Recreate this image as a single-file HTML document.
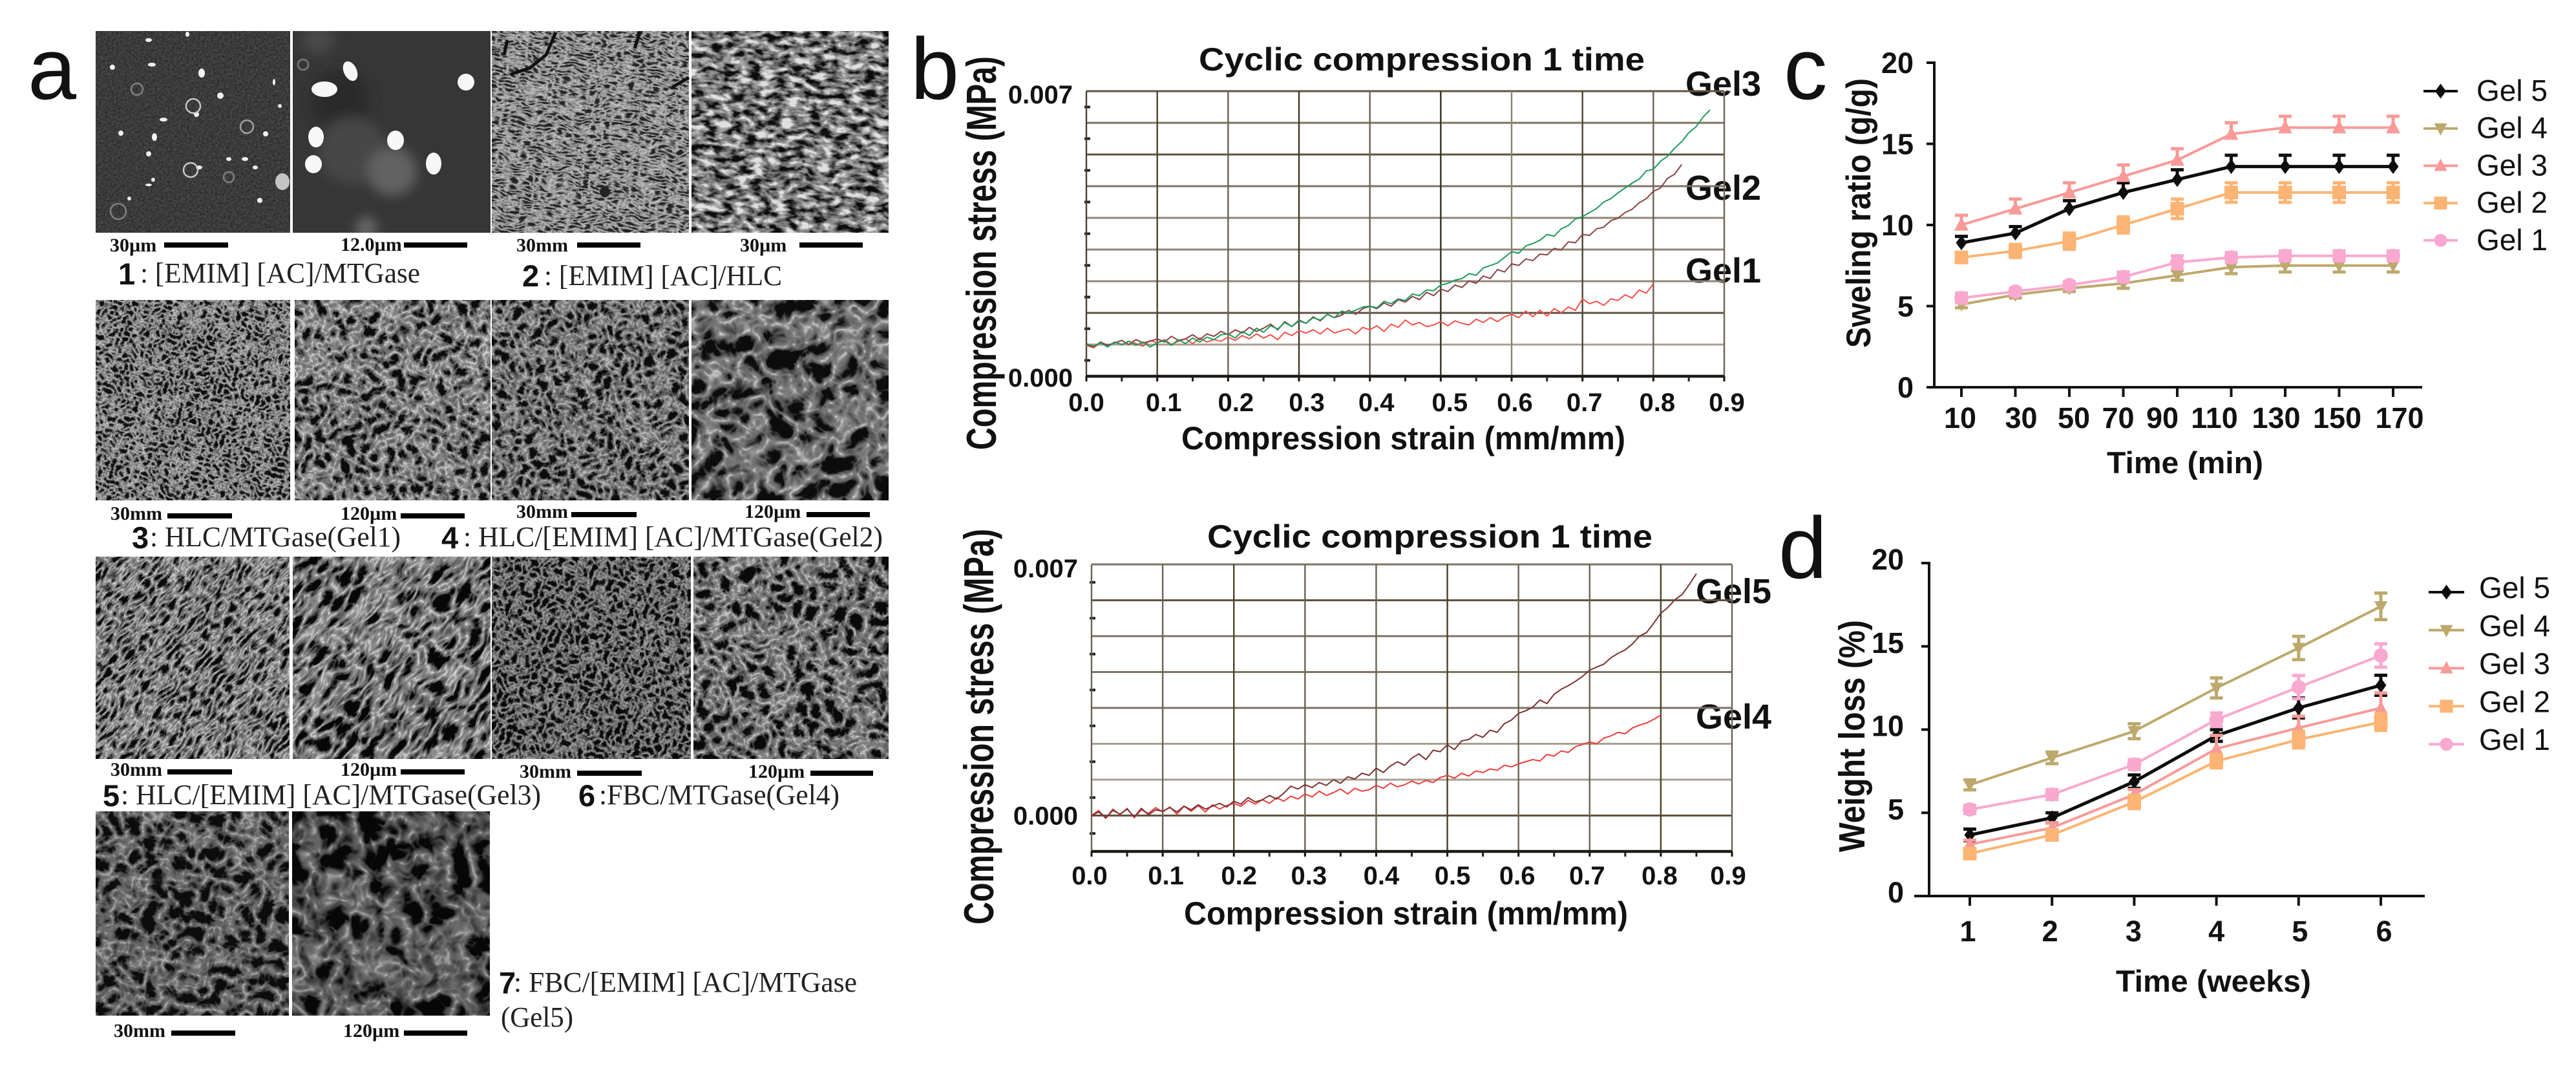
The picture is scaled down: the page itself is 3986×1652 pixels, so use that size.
<!DOCTYPE html>
<html lang="en">
<head>
<meta charset="utf-8">
<title>Hydrogel characterisation figure</title>
<style>
html,body{margin:0;padding:0;background:#fff;width:3986px;height:1652px;overflow:hidden}
svg{display:block}
text{font-family:"Liberation Sans",sans-serif;fill:#111}
.cap{font-family:"Liberation Serif",serif;font-size:44px;fill:#222}
.num{font-weight:700;font-size:47px}
.sb{font-family:"Liberation Serif",serif;font-weight:700;font-size:30px}
.pl{font-size:135px}
.gel{font-weight:700;font-size:54px}
.ttl{font-weight:700;font-size:50px}
</style>
</head>
<body>
<svg id="fig" xmlns="http://www.w3.org/2000/svg" width="3986" height="1652" viewBox="0 0 3986 1652">
<defs id="defs">
<filter id="f0" x="0" y="0" width="100%" height="100%" color-interpolation-filters="sRGB"><feTurbulence type="fractalNoise" baseFrequency=".3" numOctaves="2" seed="2"/><feColorMatrix values=".22 0 0 0 .12 .22 0 0 0 .12 .22 0 0 0 .12 0 0 0 0 1"/></filter>
<filter id="soft"><feGaussianBlur stdDeviation="9"/></filter>
</defs>

<g>
<text class="pl" x="43" y="153">a</text>

<g>
<rect x="148" y="48" width="301" height="312" filter="url(#f0)"/>
<g fill="#f2f2f2">
<ellipse cx="312" cy="113" rx="5" ry="7"/><ellipse cx="341" cy="148" rx="5" ry="5"/><ellipse cx="239" cy="212" rx="4" ry="6"/><ellipse cx="253" cy="185" rx="6" ry="3"/><ellipse cx="187" cy="206" rx="4" ry="4"/><ellipse cx="290" cy="53" rx="3" ry="4"/><ellipse cx="230" cy="62" rx="5" ry="3"/><ellipse cx="235" cy="100" rx="6" ry="3"/><ellipse cx="174" cy="104" rx="4" ry="4"/><ellipse cx="411" cy="207" rx="4" ry="4"/><ellipse cx="230" cy="238" rx="4" ry="4"/><ellipse cx="354" cy="246" rx="4" ry="3"/><ellipse cx="379" cy="246" rx="5" ry="3"/><ellipse cx="395" cy="259" rx="4" ry="3"/><ellipse cx="237" cy="278" rx="3" ry="3"/><ellipse cx="230" cy="286" rx="5" ry="2"/><ellipse cx="402" cy="310" rx="4" ry="4"/><ellipse cx="200" cy="307" rx="3" ry="3"/><ellipse cx="437" cy="281" rx="11" ry="13" fill="#c4c4c4"/><ellipse cx="304" cy="177" rx="4" ry="4"/><ellipse cx="424" cy="127" rx="2" ry="5"/><ellipse cx="433" cy="164" rx="3" ry="3"/><ellipse cx="308" cy="259" rx="5" ry="3"/>
</g>
<g fill="none" stroke="#808080" stroke-width="2.5">
<circle cx="212" cy="138" r="9"/><circle cx="299" cy="164" r="11" stroke="#c8c8c8"/><circle cx="382" cy="196" r="10" stroke="#a0a0a0"/><circle cx="295" cy="263" r="11" stroke="#c8c8c8"/><circle cx="354" cy="274" r="8"/><circle cx="183" cy="327" r="12"/>
</g>
</g>

<g>
<rect x="453" y="48" width="306" height="312" fill="#363636"/>
<svg x="453" y="48" width="306" height="312">
<g filter="url(#soft)">
<circle cx="74" cy="106" r="46" fill="#2b2b2b"/><circle cx="92" cy="185" r="52" fill="#474747"/><circle cx="154" cy="217" r="38" fill="#626262"/><circle cx="114" cy="304" r="16" fill="#6c6c6c"/><circle cx="39" cy="12" r="24" fill="#484848"/>
</g>
</svg>
<g fill="#f7f7f7">
<ellipse cx="542" cy="110" rx="10" ry="16" transform="rotate(-25 542 110)"/><ellipse cx="502" cy="138" rx="20" ry="12"/><ellipse cx="721" cy="127" rx="13" ry="13"/><ellipse cx="489" cy="212" rx="12" ry="16"/><ellipse cx="612" cy="217" rx="13" ry="15"/><ellipse cx="485" cy="254" rx="13" ry="14"/><ellipse cx="671" cy="253" rx="12" ry="17"/>
</g>
<circle cx="469" cy="100" r="8" fill="none" stroke="#707070" stroke-width="3"/>
</g>

<g>
<svg x="761" y="48" width="305" height="312"><rect x="-100" y="-100" width="505" height="512" transform="rotate(8 152 156)" filter="url(#t1)"/></svg>
<path d="M785 62 L780 85 M860 50 L845 85 L820 105 L790 115 M990 50 L982 75 M1066 120 L1040 135" stroke="#111" stroke-width="5" fill="none"/>
<circle cx="936" cy="297" r="8" fill="#222"/>
</g>
<g>
<svg x="1070" y="48" width="305" height="312"><rect x="-100" y="-100" width="505" height="512" transform="rotate(6 152 156)" filter="url(#t2)"/></svg>
</g>

<text class="sb" x="170" y="389">30µm</text>
<rect x="254" y="375" width="99" height="8" fill="#000"/>
<text class="sb" x="527" y="388">12.0µm</text>
<rect x="625" y="375" width="98" height="8" fill="#000"/>
<text class="sb" x="799" y="389">30mm</text>
<rect x="893" y="375" width="98" height="8" fill="#000"/>
<text class="sb" x="1145" y="389">30µm</text>
<rect x="1237" y="375" width="98" height="8" fill="#000"/>

<text class="num" x="183" y="440">1</text>
<text class="cap" x="217" y="437" textLength="433" lengthAdjust="spacingAndGlyphs">: [EMIM] [AC]/MTGase</text>
<text class="num" x="808" y="443">2</text>
<text class="cap" x="842" y="441" textLength="368" lengthAdjust="spacingAndGlyphs">: [EMIM] [AC]/HLC</text>

<g><svg x="148" y="464" width="301" height="310"><rect x="-100" y="-100" width="501" height="510" transform="rotate(17 150 155)" filter="url(#t3)"/></svg></g>
<g><svg x="456" y="464" width="303" height="310"><rect x="-100" y="-100" width="503" height="510" transform="rotate(-21 151 155)" filter="url(#t4)"/></svg></g>
<g><svg x="761" y="464" width="305" height="310"><rect x="-100" y="-100" width="505" height="510" transform="rotate(25 152 155)" filter="url(#t5)"/></svg></g>
<g><svg x="1070" y="464" width="305" height="310"><rect x="-100" y="-100" width="505" height="510" transform="rotate(-13 152 155)" filter="url(#t6)"/></svg></g>

<text class="sb" x="171" y="804">30mm</text>
<rect x="259" y="794" width="100" height="8" fill="#000"/>
<text class="sb" x="527" y="804">120µm</text>
<rect x="620" y="794" width="99" height="8" fill="#000"/>
<text class="sb" x="799" y="801">30mm</text>
<rect x="884" y="792" width="101" height="8" fill="#000"/>
<text class="sb" x="1152" y="801">120µm</text>
<rect x="1248" y="792" width="98" height="8" fill="#000"/>

<text class="num" x="204" y="848">3</text>
<text class="cap" x="232" y="845" textLength="388" lengthAdjust="spacingAndGlyphs">: HLC/MTGase(Gel1)</text>
<text class="num" x="683" y="848">4</text>
<text class="cap" x="717" y="845" textLength="649" lengthAdjust="spacingAndGlyphs">: HLC/[EMIM] [AC]/MTGase(Gel2)</text>

<g><svg x="148" y="861" width="300" height="313"><rect x="-130" y="-130" width="560" height="573" transform="rotate(-50 150 156)" filter="url(#t7)"/></svg></g>
<g><svg x="453" y="861" width="306" height="313"><rect x="-130" y="-130" width="566" height="573" transform="rotate(-50 153 156)" filter="url(#t8)"/></svg></g>
<g><svg x="761" y="861" width="308" height="313"><rect x="-100" y="-100" width="508" height="513" transform="rotate(23 154 156)" filter="url(#t9)"/></svg></g>
<g><svg x="1073" y="861" width="302" height="313"><rect x="-100" y="-100" width="502" height="513" transform="rotate(-27 151 156)" filter="url(#t10)"/></svg></g>

<text class="sb" x="171" y="1200">30mm</text>
<rect x="259" y="1190" width="100" height="8" fill="#000"/>
<text class="sb" x="527" y="1200">120µm</text>
<rect x="620" y="1190" width="99" height="8" fill="#000"/>
<text class="sb" x="804" y="1203">30mm</text>
<rect x="893" y="1192" width="100" height="8" fill="#000"/>
<text class="sb" x="1158" y="1203">120µm</text>
<rect x="1254" y="1192" width="97" height="8" fill="#000"/>

<text class="num" x="159" y="1247">5</text>
<text class="cap" x="187" y="1244" textLength="650" lengthAdjust="spacingAndGlyphs">: HLC/[EMIM] [AC]/MTGase(Gel3)</text>
<text class="num" x="895" y="1247">6</text>
<text class="cap" x="927" y="1244" textLength="372" lengthAdjust="spacingAndGlyphs">:FBC/MTGase(Gel4)</text>

<g><svg x="148" y="1255" width="299" height="316"><rect x="-40" y="-40" width="379" height="396" transform="rotate(11 149 158)" filter="url(#t11)"/></svg></g>
<g><svg x="452" y="1255" width="306" height="316"><rect x="-40" y="-40" width="386" height="396" transform="rotate(-11 153 158)" filter="url(#t12)"/></svg></g>

<text class="sb" x="176" y="1604">30mm</text>
<rect x="265" y="1594" width="99" height="8" fill="#000"/>
<text class="sb" x="531" y="1604">120µm</text>
<rect x="625" y="1594" width="98" height="8" fill="#000"/>

<text class="num" x="772" y="1537">7</text>
<text class="cap" x="795" y="1534" textLength="531" lengthAdjust="spacingAndGlyphs">: FBC/[EMIM] [AC]/MTGase</text>
<text class="cap" x="775" y="1588" textLength="112" lengthAdjust="spacingAndGlyphs">(Gel5)</text>
</g>

<g>
<text class="pl" x="1409" y="153">b</text>
<g id="chartB1">
<text class="ttl" x="1855" y="109" textLength="690" lengthAdjust="spacingAndGlyphs">Cyclic compression 1 time</text>
<text class="ttl" x="1828" y="695" textLength="687" lengthAdjust="spacingAndGlyphs">Compression strain (mm/mm)</text>
<text class="ttl" transform="translate(1541 696) rotate(-90) scale(1 1.3)" textLength="609" lengthAdjust="spacingAndGlyphs">Compression stress (MPa)</text>
<text class="gel" x="2608" y="148">Gel3</text>
<text class="gel" x="2608" y="309">Gel2</text>
<text class="gel" x="2608" y="437">Gel1</text>
</g>
<g id="chartB2">
<text class="ttl" x="1868" y="847" textLength="689" lengthAdjust="spacingAndGlyphs">Cyclic compression 1 time</text>
<text class="ttl" x="1832" y="1430" textLength="687" lengthAdjust="spacingAndGlyphs">Compression strain (mm/mm)</text>
<text class="ttl" transform="translate(1537 1430) rotate(-90) scale(1 1.3)" textLength="612" lengthAdjust="spacingAndGlyphs">Compression stress (MPa)</text>
<text class="gel" x="2624" y="933">Gel5</text>
<text class="gel" x="2624" y="1127">Gel4</text>
</g>
</g>

<g>
<text class="pl" x="2760" y="153">c</text>
<g id="chartC">
<text class="num" x="3260" y="732" textLength="242" lengthAdjust="spacingAndGlyphs">Time (min)</text>
<text class="num" transform="translate(2894 538) rotate(-90) scale(1 1.12)" textLength="417" lengthAdjust="spacingAndGlyphs">Sweling ratio (g/g)</text>
</g>
</g>

<g>
<text class="pl" x="2752" y="894">d</text>
<g id="chartD">
<text class="num" x="3274" y="1534" textLength="302" lengthAdjust="spacingAndGlyphs">Time (weeks)</text>
<text class="num" transform="translate(2885 1318) rotate(-90) scale(1 1.2)" textLength="359" lengthAdjust="spacingAndGlyphs">Weight loss (%)</text>
</g>
</g>
</svg>

<script>
// ---- Panel b data: stress in kPa (0.007 MPa = 7 kPa), sampled every 0.01 strain ----
const strainTicks = [0, 0.1, 0.2, 0.3, 0.4, 0.5, 0.6, 0.7, 0.8, 0.9];
const strainTickLabels = ['0.0', '0.1', '0.2', '0.3', '0.4', '0.5', '0.6', '0.7', '0.8', '0.9'];
const strainSamples = [0, .01, .02, .03, .04, .05, .06, .07, .08, .09, .1, .11, .12, .13, .14, .15, .16, .17, .18, .19, .2, .21, .22, .23, .24, .25, .26, .27, .28, .29, .3, .31, .32, .33, .34, .35, .36, .37, .38, .39, .4, .41, .42, .43, .44, .45, .46, .47, .48, .49, .5, .51, .52, .53, .54, .55, .56, .57, .58, .59, .6, .61, .62, .63, .64, .65, .66, .67, .68, .69, .7, .71, .72, .73, .74, .75, .76, .77, .78, .79, .8, .81, .82, .83, .84, .85, .86, .87, .88];
const stressTickValues = [0, 7];
const stressTickLabels = ['0.000', '0.007'];
const topGel1 = [.76, .70, .82, .74, .84, .78, .86, .80, .74, .88,
  .82, .90, .78, .86, .92, .80, .94, .84, .90, .86,
  .96, .88, 1.00, .92, 1.04, .94, 1.02, .90, 1.08, 1.00,
  1.12, 1.06, 1.14, 1.04, 1.18, 1.06, 1.12, 1.16, 1.04, 1.20,
  1.14, 1.24, 1.10, 1.28, 1.20, 1.38, 1.26, 1.32, 1.22, 1.26,
  1.34, 1.24, 1.36, 1.30, 1.26, 1.40, 1.32, 1.44, 1.34, 1.46,
  1.52, 1.44, 1.60, 1.46, 1.62, 1.48, 1.66, 1.56, 1.70, 1.62,
  1.90, 1.78, 1.84, 1.74, 1.90, 1.86, 2.00, 1.92, 2.12, 2.04,
  2.27];
const topGel2 = [.78, .72, .84, .76, .82, .88, .78, .90, .82, .86,
  .92, .84, .98, .88, .92, 1.02, .90, 1.04, .98, 1.10,
  1.02, 1.14, 1.06, 1.20, 1.10, 1.18, 1.28, 1.14, 1.34, 1.22,
  1.38, 1.30, 1.46, 1.36, 1.52, 1.44, 1.50, 1.62, 1.52, 1.66,
  1.72, 1.66, 1.80, 1.72, 1.88, 1.82, 1.96, 1.88, 2.06, 1.98,
  2.14, 2.08, 2.24, 2.18, 2.34, 2.28, 2.46, 2.40, 2.62, 2.56,
  2.76, 2.72, 2.88, 2.84, 3.00, 2.98, 3.14, 3.10, 3.30, 3.28,
  3.48, 3.46, 3.62, 3.66, 3.82, 3.88, 4.02, 4.10, 4.26, 4.36,
  4.54, 4.62, 4.86, 4.96, 5.20];
const topGel3 = [.80, .74, .82, .72, .84, .78, .86, .76, .84, .72,
  .82, .88, .76, .90, .80, .94, .84, .96, .90, 1.02,
  1.04, .94, 1.10, 1.00, 1.18, 1.08, 1.24, 1.16, 1.32, 1.22,
  1.36, 1.30, 1.44, 1.38, 1.52, 1.44, 1.60, 1.56, 1.62, 1.70,
  1.72, 1.68, 1.84, 1.78, 1.90, 1.86, 2.02, 1.98, 2.12, 2.10,
  2.24, 2.28, 2.36, 2.40, 2.52, 2.48, 2.66, 2.72, 2.78, 2.92,
  3.06, 3.02, 3.20, 3.26, 3.34, 3.48, 3.44, 3.62, 3.70, 3.86,
  3.92, 4.02, 4.12, 4.28, 4.36, 4.50, 4.62, 4.74, 4.84, 5.04,
  5.08, 5.28, 5.40, 5.60, 5.76, 5.98, 6.12, 6.36, 6.54];
const bottomGel5 = [0, .10, -.06, .14, .04, .18, -.04, .20, .02, .16,
  .12, .22, .10, .26, .16, .30, .18, .26, .34, .24,
  .40, .32, .50, .38, .44, .56, .46, .62, .82, .74,
  .86, .78, .92, .84, 1.00, .90, 1.08, 1.02, 1.18, 1.12,
  1.32, 1.20, 1.38, 1.50, 1.40, 1.60, 1.72, 1.56, 1.82, 1.78,
  1.97, 1.84, 2.08, 2.12, 2.26, 2.18, 2.38, 2.32, 2.56, 2.66,
  2.85, 2.92, 3.02, 3.22, 3.12, 3.38, 3.52, 3.62, 3.74, 3.88,
  4.05, 4.14, 4.22, 4.40, 4.52, 4.62, 4.78, 5.00, 5.10, 5.36,
  5.64, 5.80, 6.02, 6.16, 6.44, 6.74];
const bottomGel4 = [0, .14, -.08, .18, .02, .20, -.06, .16, .06, .22,
  .10, .24, .04, .26, .12, .28, .10, .30, .18, .28,
  .34, .26, .42, .32, .44, .34, .50, .40, .54, .46,
  .60, .52, .68, .56, .64, .74, .60, .76, .68, .72,
  .84, .76, .90, .80, .86, .96, .88, .98, .92, 1.06,
  1.12, 1.04, 1.18, 1.10, 1.24, 1.20, 1.30, 1.26, 1.40, 1.36,
  1.44, 1.50, 1.56, 1.52, 1.70, 1.66, 1.80, 1.76, 1.92, 1.98,
  2.05, 2.00, 2.16, 2.22, 2.32, 2.28, 2.44, 2.52, 2.58, 2.68,
  2.80];

// ---- Panel c data ----
const swellTimes = [10, 30, 50, 70, 90, 110, 130, 150, 170];
const swellYTicks = [0, 5, 10, 15, 20];
const swellGel5 = [8.9, 9.5, 11, 12, 12.8, 13.6, 13.6, 13.6, 13.6];
const swellGel5Err = [.4, .4, .5, .6, .6, .7, .7, .7, .7];
const swellGel4 = [5.1, 5.7, 6.1, 6.4, 6.9, 7.4, 7.5, 7.5, 7.5];
const swellGel4Err = [.2, .2, .2, .3, .3, .4, .4, .4, .4];
const swellGel3 = [10, 11, 12, 13, 14, 15.6, 16, 16, 16];
const swellGel3Err = [.6, .6, .6, .7, .7, .7, .7, .7, .7];
const swellGel2 = [8, 8.4, 9, 10, 11, 12, 12, 12, 12];
const swellGel2Err = [.3, .4, .5, .5, .6, .6, .6, .6, .6];
const swellGel1 = [5.5, 5.9, 6.3, 6.8, 7.7, 8, 8.1, 8.1, 8.1];
const swellGel1Err = [.3, .2, .2, .3, .4, .3, .3, .3, .3];

// ---- Panel d data ----
const lossWeeks = [1, 2, 3, 4, 5, 6];
const lossYTicks = [0, 5, 10, 15, 20];
const lossGel5 = [3.67, 4.7, 6.87, 9.64, 11.3, 12.66];
const lossGel5Err = [.35, .3, .4, .35, .6, .6];
const lossGel4 = [6.68, 8.3, 9.9, 12.5, 14.9, 17.4];
const lossGel4Err = [.3, .35, .45, .6, .7, .8];
const lossGel3 = [3.1, 4.1, 6.1, 8.85, 10.1, 11.3];
const lossGel3Err = [.25, .3, .3, .8, .7, .9];
const lossGel2 = [2.55, 3.67, 5.65, 8.1, 9.4, 10.45];
const lossGel2Err = [.3, .3, .4, .4, .5, .5];
const lossGel1 = [5.2, 6.1, 7.9, 10.6, 12.55, 14.45];
const lossGel1Err = [.25, .3, .3, .4, .7, .7];
const gelNames = ['Gel 5', 'Gel 4', 'Gel 3', 'Gel 2', 'Gel 1'];

const NS = 'http://www.w3.org/2000/svg';
function mk(tag, attrs, parent) {
  const el = document.createElementNS(NS, tag);
  for (const k in attrs) el.setAttribute(k, attrs[k]);
  parent.appendChild(el);
  return el;
}
function linear(d0, d1, r0, r1) {
  return function (v) { return r0 + (v - d0) / (d1 - d0) * (r1 - r0); };
}

// ---- Procedural micrograph textures (SVG noise filters) ----
const microTextures = [
  ['t1', 'turbulence', '.08 .2', 3, 5, -1.8, .9, 16, '.14 .4 .55 .65 .8 .98'],
  ['t2', 'fractalNoise', '.05 .1', 3, 8, 2.5, -.75, 12, '.05 .22 .42 .55 .68 .88'],
  ['t3', 'turbulence', '.12', 3, 11, -1.9, .95, 6, '.06 .32 .48 .56 .74 .98'],
  ['t4', 'turbulence', '.055', 3, 14, -1.9, .95, 10, '.05 .32 .46 .54 .74 .98'],
  ['t5', 'turbulence', '.07', 3, 21, -1.9, .92, 10, '.05 .3 .44 .52 .72 .95'],
  ['t6', 'turbulence', '.028', 3, 27, -1.9, .9, 20, '.05 .28 .42 .5 .72 .98'],
  ['t7', 'turbulence', '.05 .12', 3, 31, -1.9, .95, 10, '.04 .3 .46 .56 .76 1'],
  ['t8', 'turbulence', '.028 .065', 3, 36, -1.9, .92, 16, '.03 .3 .46 .56 .78 1'],
  ['t9', 'turbulence', '.1', 3, 41, -1.9, .9, 8, '.04 .28 .42 .5 .7 .95'],
  ['t10', 'turbulence', '.05', 3, 47, -1.9, .92, 12, '.04 .3 .44 .52 .74 1'],
  ['t11', 'turbulence', '.04', 3, 52, -1.9, .88, 14, '.05 .26 .38 .46 .66 .92'],
  ['t12', 'turbulence', '.024', 3, 58, -1.9, .85, 20, '.03 .22 .34 .44 .66 .92']
];
microTextures.forEach(function (t) {
  const defs = document.getElementById('defs');
  const f = mk('filter', { id: t[0], x: 0, y: 0, width: '100%', height: '100%', 'color-interpolation-filters': 'sRGB' }, defs);
  mk('feTurbulence', { type: t[1], baseFrequency: t[2], numOctaves: t[3], seed: t[4], result: 'n' }, f);
  mk('feTurbulence', { type: 'fractalNoise', baseFrequency: '.025', numOctaves: 2, seed: t[4] + 1, result: 'w' }, f);
  mk('feDisplacementMap', { in: 'n', in2: 'w', scale: t[7], xChannelSelector: 'R', yChannelSelector: 'G', result: 'd' }, f);
  const row = t[5] + ' 0 0 0 ' + t[6] + ' ';
  mk('feColorMatrix', { in: 'd', values: row + row + row + '0 0 0 0 1' }, f);
  const ct = mk('feComponentTransfer', {}, f);
  mk('feFuncR', { type: 'table', tableValues: t[8] }, ct);
  mk('feFuncG', { type: 'table', tableValues: t[8] }, ct);
  mk('feFuncB', { type: 'table', tableValues: t[8] }, ct);
});

function drawStress(root, cfg, seriesList) {
  const x = linear(0, 0.9, cfg.left, cfg.right);
  const y = linear(cfg.yMin, cfg.yMax, cfg.bottom, cfg.top);
  for (let v = cfg.yMin, i = 0; v <= cfg.yMax + 1e-6; v += cfg.gridStep, i++) {
    const gl = mk('line', { x1: cfg.left, x2: cfg.right, y1: y(v), y2: y(v), stroke: cfg.yGridColors[i], 'stroke-width': 3 }, root);
    
    
    const hv = v + cfg.gridStep / 2;
    if (hv < cfg.yMax) {
      const mt = mk('line', { x1: cfg.left - 3, x2: cfg.left + 6, y1: y(hv), y2: y(hv), stroke: '#222', 'stroke-width': 4 }, root);
      
      
    }
  }
  strainTicks.forEach(function (t, i) {
    const gl = mk('line', { x1: x(t), x2: x(t), y1: cfg.top, y2: cfg.bottom, stroke: cfg.xGridColors[i], 'stroke-width': 2.4 }, root);
    
    
    const lb = mk('text', { x: x(t) + cfg.xLabelDx[i], y: cfg.xLabelY, 'text-anchor': 'middle', 'font-size': 40, 'font-weight': 700 }, root);
    
    
    lb.textContent = strainTickLabels[i];
    const mj = mk('line', { x1: x(t), x2: x(t), y1: cfg.bottom, y2: cfg.bottom + 8, stroke: '#111', 'stroke-width': 3 }, root);
    
    
    if (i < strainTicks.length - 1) {
      const mx = (t + strainTicks[i + 1]) / 2;
      const mn = mk('line', { x1: x(mx), x2: x(mx), y1: cfg.bottom, y2: cfg.bottom + 8, stroke: '#222', 'stroke-width': 3 }, root);
      
      
    }
  });
  const axis = mk('line', { x1: cfg.left, x2: cfg.right, y1: cfg.bottom, y2: cfg.bottom, stroke: '#1c1a16', 'stroke-width': 4.5 }, root);
  
  
  stressTickValues.forEach(function (v, i) {
    const lb = mk('text', { x: cfg.left - 21, y: y(v) + cfg.yLabelDy[i], 'text-anchor': 'end', 'font-size': 40, 'font-weight': 700 }, root);
    
    
    lb.textContent = stressTickLabels[i];
  });
  seriesList.forEach(function (s) {
    const pts = s.values.map(function (v, i) { return x(strainSamples[i]) + ',' + y(v); }).join(' ');
    const pl = mk('polyline', { points: pts, fill: 'none', stroke: s.color, 'stroke-width': 2, 'stroke-linejoin': 'round' }, root);
    
    
  });
}

function marker(parent, shape, cx, cy, r, color) {
  if (shape === 'circle') return mk('circle', { cx: cx, cy: cy, r: r, fill: color }, parent);
  if (shape === 'square') return mk('rect', { x: cx - r, y: cy - r, width: 2 * r, height: 2 * r, fill: color }, parent);
  let pts;
  if (shape === 'diamond') pts = [[cx, cy - r * 1.15], [cx + r * .85, cy], [cx, cy + r * 1.15], [cx - r * .85, cy]];
  if (shape === 'down') pts = [[cx - r, cy - r * .8], [cx + r, cy - r * .8], [cx, cy + r * 1.1]];
  if (shape === 'up') pts = [[cx - r, cy + r * .8], [cx + r, cy + r * .8], [cx, cy - r * 1.1]];
  return mk('polygon', { points: pts.map(function (p) { return p.join(','); }).join(' '), fill: color }, parent);
}

function drawCategory(root, cfg, xs, yTicks, seriesList) {
  const x = linear(xs[0], xs[xs.length - 1], cfg.x0, cfg.x1);
  const y = linear(yTicks[0], yTicks[yTicks.length - 1], cfg.bottom, cfg.top);
  const ya = mk('line', { x1: cfg.axisX, x2: cfg.axisX, y1: cfg.top - 2, y2: cfg.bottom + 2, stroke: '#111', 'stroke-width': 4 }, root);
  
  
  const xa = mk('line', { x1: cfg.axisX - cfg.axisLeftExt, x2: cfg.axisEnd, y1: cfg.bottom, y2: cfg.bottom, stroke: '#111', 'stroke-width': 4 }, root);
  
  
  yTicks.forEach(function (v) {
    const t = mk('line', { x1: cfg.axisX - 12, x2: cfg.axisX, y1: y(v), y2: y(v), stroke: '#111', 'stroke-width': 4 }, root);
    
    
    const lb = mk('text', { x: cfg.yLabelX, y: y(v) + cfg.yLabelDy, 'text-anchor': 'end', 'font-size': 45, 'font-weight': 700 }, root);
    
    
    lb.textContent = String(v);
  });
  xs.forEach(function (v, i) {
    const t = mk('line', { x1: x(v), x2: x(v), y1: cfg.bottom, y2: cfg.bottom + 15, stroke: '#111', 'stroke-width': 4 }, root);
    
    
    const lb = mk('text', { x: x(v) + cfg.xLabelDx[i], y: cfg.xLabelY, 'text-anchor': 'middle', 'font-size': 45, 'font-weight': 700 }, root);
    
    
    lb.textContent = String(v);
  });
  seriesList.forEach(function (s, si) {
    const g = mk('g', {}, root);
    
    
    s.values.forEach(function (v, i) {
      const px = x(xs[i]);
      const hi = y(v + s.err[i]);
      const lo = s.lowerErr ? y(v - s.err[i]) : y(v);
      const eb = mk('path', { d: 'M' + (px - 10) + ' ' + hi + 'H' + (px + 10) + 'M' + px + ' ' + hi + 'V' + lo + (s.lowerErr ? 'M' + (px - 10) + ' ' + lo + 'H' + (px + 10) : ''), fill: 'none', stroke: s.color, 'stroke-width': 5 }, g);
      
      
    });
    const pl = mk('polyline', { points: s.values.map(function (v, i) { return x(xs[i]) + ',' + y(v); }).join(' '), fill: 'none', stroke: s.color, 'stroke-width': s.key === 'gel5' ? 5 : 4 }, g);
    
    
    s.values.forEach(function (v, i) {
      const m = marker(g, s.shape, x(xs[i]), y(v), s.size, s.color);
      
      
    });
    const ly = cfg.legendY + si * cfg.legendStep;
    const lgLine = mk('line', { x1: cfg.legendX0, x2: cfg.legendX1, y1: ly, y2: ly, stroke: s.color, 'stroke-width': 4 }, root);
    
    
    const lgMark = marker(root, s.shape, (cfg.legendX0 + cfg.legendX1) / 2, ly, 10, s.color);
    
    
    const lgText = mk('text', { x: cfg.legendTextX, y: ly + cfg.legendTextDy, 'font-size': 46 }, root);
    
    
    lgText.textContent = gelNames[si];
  });
}

drawStress(document.getElementById('chartB1'),
  { left: 1681, right: 2668, top: 141, bottom: 582, yMin: 0, yMax: 7, gridStep: 7 / 9, xLabelY: 636, yLabelDy: [16, 19],
    xLabelDx: [0, 10, 12, 12, 10, 14, 5, 3, 6, 4],
    xGridColors: ['#4a4230', '#4a4230', '#6a6354', '#3f3826', '#6a6354', '#36301c', '#8a8476', '#4a4230', '#6a6354', '#6a6354'],
    yGridColors: ['#1c1a16', '#a89f90', '#5f5240', '#8f8574', '#8f8574', '#8f8574', '#7d7262', '#5f5240', '#7d7262', '#5f5240'] },
  [{ key: 'gel1', values: topGel1, color: '#f4504a' }, { key: 'gel2', values: topGel2, color: '#8a4242' }, { key: 'gel3', values: topGel3, color: '#1f9a5c' }]);

drawStress(document.getElementById('chartB2'),
  { left: 1689, right: 2680, top: 873, bottom: 1317, yMin: -1, yMax: 7, gridStep: 1, xLabelY: 1368, yLabelDy: [14, 20],
    xLabelDx: [-3, 5, 8, 6, 8, 8, -2, -4, -2, -6],
    xGridColors: ['#6a6354', '#6a6354', '#4a4226', '#6a6354', '#6a6354', '#4a4226', '#6a6354', '#6a6354', '#4a4226', '#6a6354'],
    yGridColors: ['#1c1a16', '#5f5240', '#a89f90', '#a89f90', '#7d7262', '#7d7262', '#7d7262', '#5f5240', '#7d7262'] },
  [{ key: 'gel4', values: bottomGel4, color: '#f03c3c' }, { key: 'gel5', values: bottomGel5, color: '#7a3232' }]);

const palette = { g5: '#0d0d0d', g4: '#bda96c', g3: '#f79a98', g2: '#fbb473', g1: '#f9a8cf' };
drawCategory(document.getElementById('chartC'),
  { x0: 3035, x1: 3703, top: 97, bottom: 599, axisX: 2993, axisLeftExt: 12, axisEnd: 3748, yLabelX: 2961, yLabelDy: 16, xLabelY: 662, xLabelDx: [-2, 9, 7, -8, -23, -26, -14, -3, 10], legendY: 141, legendStep: 57.7, legendX0: 3750, legendX1: 3803, legendTextX: 3832, legendTextDy: 15 },
  swellTimes, swellYTicks,
  [{ key: 'gel5', values: swellGel5, err: swellGel5Err, color: palette.g5, shape: 'diamond', size: 10, lowerErr: false },
   { key: 'gel4', values: swellGel4, err: swellGel4Err, color: palette.g4, shape: 'down', size: 10, lowerErr: true },
   { key: 'gel3', values: swellGel3, err: swellGel3Err, color: palette.g3, shape: 'up', size: 11, lowerErr: false },
   { key: 'gel2', values: swellGel2, err: swellGel2Err, color: palette.g2, shape: 'square', size: 10.5, lowerErr: true },
   { key: 'gel1', values: swellGel1, err: swellGel1Err, color: palette.g1, shape: 'circle', size: 11, lowerErr: true }]);

drawCategory(document.getElementById('chartD'),
  { x0: 3048, x1: 3684, top: 871, bottom: 1386, axisX: 2985, axisLeftExt: 23, axisEnd: 3752, yLabelX: 2946, yLabelDy: 10, xLabelY: 1456, xLabelDx: [-3, -3, -1, 0, 2, 5], legendY: 916, legendStep: 58.8, legendX0: 3758, legendX1: 3813, legendTextX: 3836, legendTextDy: 9 },
  lossWeeks, lossYTicks,
  [{ key: 'gel5', values: lossGel5, err: lossGel5Err, color: palette.g5, shape: 'diamond', size: 10, lowerErr: true },
   { key: 'gel4', values: lossGel4, err: lossGel4Err, color: palette.g4, shape: 'down', size: 10, lowerErr: true },
   { key: 'gel3', values: lossGel3, err: lossGel3Err, color: palette.g3, shape: 'up', size: 10, lowerErr: true },
   { key: 'gel2', values: lossGel2, err: lossGel2Err, color: palette.g2, shape: 'square', size: 10.5, lowerErr: true },
   { key: 'gel1', values: lossGel1, err: lossGel1Err, color: palette.g1, shape: 'circle', size: 11, lowerErr: true }]);
</script>
</body>
</html>
